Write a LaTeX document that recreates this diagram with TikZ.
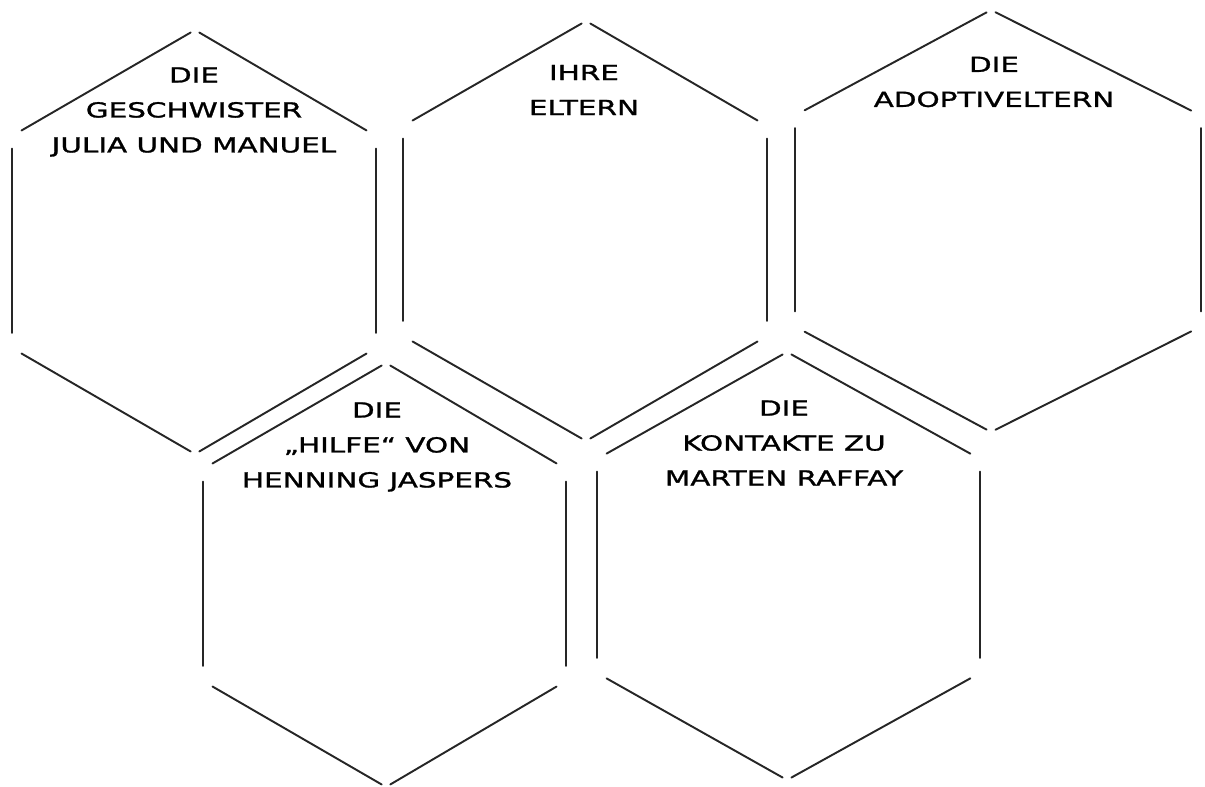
\documentclass[tikz,border=0pt]{standalone}
\usepackage{fontspec}
\newfontfamily\hexfont[FakeStretch=1.42, FakeBold=1.3]{DejaVu Sans}
\usetikzlibrary{calc}

\tikzset{
  hexedge/.style={line width=1.1pt, black!85, line cap=round},
  slantedge/.style={hexedge, shorten <=0.22cm, shorten >=0.1cm},
  sideedge/.style={hexedge, shorten <=0.25cm, shorten >=0.3cm},
  hexlabel/.style={font=\hexfont\fontsize{11.8}{19.9}\selectfont, align=center, inner sep=0pt},
}

\begin{document}
\begin{tikzpicture}[x=0.02cm, y=-0.02cm]
\useasboundingbox (0,0) rectangle (1205,787);
% honeycomb: tip x, top y, bottom y, left x, right x
\foreach \n/\cx/\ty/\by/\lx/\rx in {geschw/195/30/454/12/376,
    eltern/586/21/441/403/767, adopt/991/10/432/795/1201,
    hilfe/386/363/787/203/566, raffay/787/352/780/597/980}{
  \coordinate (\n-t)  at (\cx,\ty);
  \coordinate (\n-b)  at (\cx,\by);
  \coordinate (\n-ul) at (\lx,{\ty+(\by-\ty)/4});
  \coordinate (\n-ll) at (\lx,{\ty+3*(\by-\ty)/4});
  \coordinate (\n-ur) at (\rx,{\ty+(\by-\ty)/4});
  \coordinate (\n-lr) at (\rx,{\ty+3*(\by-\ty)/4});
  % edges, open at the corners
  \draw[slantedge] (\n-ul) -- (\n-t);
  \draw[slantedge] (\n-ur) -- (\n-t);
  \draw[slantedge] (\n-ll) -- (\n-b);
  \draw[slantedge] (\n-lr) -- (\n-b);
  \draw[sideedge] (\n-ul) -- (\n-ll);
  \draw[sideedge] (\n-ur) -- (\n-lr);
}
% labels
\node[hexlabel] (geschw-txt) at (194,112) {DIE\\GESCHWISTER\\JULIA UND MANUEL};
\node[hexlabel] (eltern-txt) at (584,90) {IHRE\\ELTERN};
\node[hexlabel] (adopt-txt)  at (994,82) {DIE\\ADOPTIVELTERN};
\node[hexlabel] (hilfe-txt)  at (377,447) {DIE\\„HILFE“ VON\\HENNING JASPERS};
\node[hexlabel] (raffay-txt) at (784,443) {DIE\\KONTAKTE ZU\\MARTEN RAFFAY};
\end{tikzpicture}
\end{document}
